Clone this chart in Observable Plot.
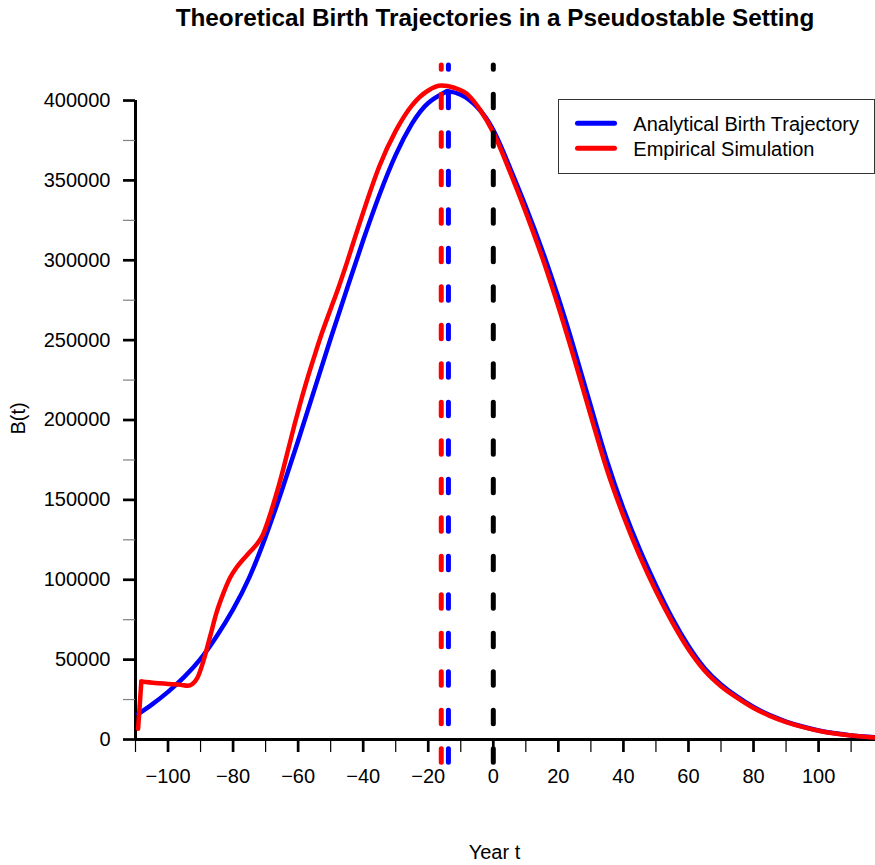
<!DOCTYPE html>
<html>
<head>
<meta charset="utf-8">
<script src="https://cdn.jsdelivr.net/npm/d3@7"></script>
<script src="https://cdn.jsdelivr.net/npm/@observablehq/plot@0.6"></script>
<style>
  body { margin: 0; background: #fff; }
  #wrap { position: relative; width: 875px; height: 865px; font-family: "Liberation Sans", Arial, Helvetica, sans-serif; color: #000; }
  #title { position: absolute; left: 115px; top: 0; width: 760px; text-align: center; font-weight: bold; font-size: 24.3px; line-height: 36px; }
  #legend { position: absolute; left: 558px; top: 99px; width: 315px; height: 73px; border: 1px solid #333; background: #fff; }
  #legend svg { position: absolute; left: 0; top: 0; }
</style>
</head>
<body>
<div id="wrap"></div>
<script>
// ---- data ----
const titleText = "Theoretical Birth Trajectories in a Pseudostable Setting";
const xLabel = "Year t";
const yLabel = "B(t)";
const seriesNames = ["Analytical Birth Trajectory", "Empirical Simulation"];
const seriesColors = ["#0000ff", "#ff0000"];

const analyticalYears  = [-109.1, -105, -100, -95, -90, -85, -80, -75, -70, -65, -60, -55, -50, -45, -40, -35, -30, -25, -20, -15, -13.8, -10, -5, 0, 5, 10, 15, 20, 25, 30, 35, 40, 45, 50, 55, 60, 65, 70, 75, 80, 85, 90, 95, 100, 105, 110, 115, 120];
const analyticalBirths = [16000, 21800, 29800, 39200, 50500, 64800, 81500, 101500, 127000, 156000, 187000, 219000, 251000, 282000, 312500, 341000, 366000, 385500, 398500, 405000, 405800, 403700, 396000, 381500, 358500, 333500, 306500, 276500, 243500, 208500, 174000, 144500, 119000, 96500, 76000, 58500, 44500, 34500, 26800, 20300, 15250, 11250, 8150, 5650, 3850, 2550, 1650, 1050];

// first two points: the initial jump; the rest: the smooth trajectory
const empiricalYears  = [-109.2, -108.2, -104, -100, -96, -94, -92.5, -91, -89, -87, -85, -83, -81, -79, -77, -75, -73, -71, -69, -67, -65, -63, -61, -59, -57, -55, -52.5, -50, -47.5, -45, -42.5, -40, -35, -30, -25, -20, -16, -12, -8, -4, 0, 5, 10, 15, 20, 25, 30, 35, 40, 45, 50, 55, 60, 65, 70, 75, 80, 85, 90, 95, 100, 105, 110, 115, 120];
const empiricalBirths = [6700, 36300, 35400, 34800, 34200, 33600, 34800, 38500, 50000, 65000, 80000, 91500, 101000, 107500, 112500, 117000, 121500, 127500, 138500, 151500, 166000, 182000, 198000, 213000, 227000, 240000, 255500, 269500, 283500, 298500, 314500, 330000, 359000, 381000, 397000, 406300, 409400, 408000, 404000, 394000, 380000, 356000, 330000, 302000, 271000, 237500, 202500, 168500, 140000, 115000, 93000, 73500, 56500, 43000, 33300, 26000, 19700, 14800, 10900, 7900, 5500, 3750, 2500, 1600, 1000];

const peakYears  = [-16.0, -13.8, 0];
const peakColors = ["#ff0000", "#0000ff", "#000000"];

const xMajorTicks = [-100, -80, -60, -40, -20, 0, 20, 40, 60, 80, 100];
const xMinorTicks = [-110, -90, -70, -50, -30, -10, 10, 30, 50, 70, 90, 110];
const yMajorTicks = [0, 50000, 100000, 150000, 200000, 250000, 300000, 350000, 400000];
const yMinorTicks = [25000, 75000, 125000, 175000, 225000, 275000, 325000, 375000];

const xDomain = [-110, 117.5];
const yDomain = [0, 421930];
const yRuleSpan = [-16230, 421930];
const yAxisSpan = [0, 400000];

// ---- build tables ----
const analytical = analyticalYears.map((t, i) => ({t, v: analyticalBirths[i]}));
const empirical = empiricalYears.map((t, i) => ({t, v: empiricalBirths[i]}));
const empiricalJump = empirical.slice(0, 2);
const empiricalMain = empirical.slice(1);
const fmt = d3.format("d");

const plot = Plot.plot({
  width: 875,
  height: 865,
  marginLeft: 135,
  marginRight: 0,
  marginTop: 65,
  marginBottom: 126,
  x: {domain: xDomain},
  y: {domain: yDomain},
  style: {fontFamily: "'Liberation Sans', Arial, Helvetica, sans-serif", fontSize: "20px", color: "#000", background: "transparent", overflow: "visible"},
  marks: [
    Plot.ruleY([0], {x1: xDomain[0], x2: xDomain[1], strokeWidth: 3}),
    Plot.ruleX([xDomain[0]], {y1: yAxisSpan[0], y2: yAxisSpan[1], strokeWidth: 3}),
    Plot.axisX(xMinorTicks, {tickSize: 13, strokeWidth: 1.2, fill: "none", label: null, tickFormat: () => ""}),
    Plot.axisX(xMajorTicks, {tickSize: 13, tickPadding: 16, strokeWidth: 2.7, label: null, tickFormat: fmt, fontSize: 20}),
    Plot.axisY(yMinorTicks, {tickSize: 12, strokeWidth: 1.2, stroke: "#808080", fill: "none", label: null, tickFormat: () => ""}),
    Plot.axisY(yMajorTicks, {tickSize: 12, tickPadding: 13, strokeWidth: 2.7, label: null, tickFormat: fmt, fontSize: 20}),
    Plot.line(analytical, {x: "t", y: "v", stroke: seriesColors[0], strokeWidth: 4.5, curve: "natural", strokeLinecap: "round", strokeLinejoin: "round"}),
    Plot.line(empiricalJump, {x: "t", y: "v", stroke: seriesColors[1], strokeWidth: 4.5, curve: "linear", strokeLinecap: "round", strokeLinejoin: "round"}),
    Plot.line(empiricalMain, {x: "t", y: "v", stroke: seriesColors[1], strokeWidth: 4.5, curve: "monotone-x", strokeLinecap: "round", strokeLinejoin: "round"}),
    ...peakYears.map((t, i) => Plot.ruleX([t], {y1: yRuleSpan[0], y2: yRuleSpan[1], stroke: peakColors[i], strokeWidth: 5, strokeDasharray: "13.5,25", strokeDashoffset: 35.9, strokeLinecap: "round"})),
    Plot.text([yLabel], {frameAnchor: "left", textAnchor: "middle", lineAnchor: "middle", rotate: -90, dx: -117, dy: 16, fontSize: 20}),
    Plot.text([xLabel], {frameAnchor: "bottom", textAnchor: "middle", lineAnchor: "middle", dx: -11, dy: 113, fontSize: 20})
  ]
});

const wrap = document.getElementById("wrap");
wrap.appendChild(plot);

const title = document.createElement("div");
title.id = "title";
title.textContent = titleText;
wrap.appendChild(title);

// legend
const legend = document.createElement("div");
legend.id = "legend";
const ns = "http://www.w3.org/2000/svg";
const lsvg = document.createElementNS(ns, "svg");
lsvg.setAttribute("width", 315);
lsvg.setAttribute("height", 73);
seriesNames.forEach((name, i) => {
  const y = 23.3 + i * 25;
  const line = document.createElementNS(ns, "line");
  line.setAttribute("x1", 18.5); line.setAttribute("x2", 55.5);
  line.setAttribute("y1", y); line.setAttribute("y2", y);
  line.setAttribute("stroke", seriesColors[i]);
  line.setAttribute("stroke-width", 5);
  line.setAttribute("stroke-linecap", "round");
  lsvg.appendChild(line);
  const txt = document.createElementNS(ns, "text");
  txt.setAttribute("x", 74.3);
  txt.setAttribute("y", y + 7.2);
  txt.setAttribute("font-size", 20);
  txt.setAttribute("font-family", "'Liberation Sans', Arial, Helvetica, sans-serif");
  txt.textContent = name;
  lsvg.appendChild(txt);
});
legend.appendChild(lsvg);
wrap.appendChild(legend);
</script>
</body>
</html>
